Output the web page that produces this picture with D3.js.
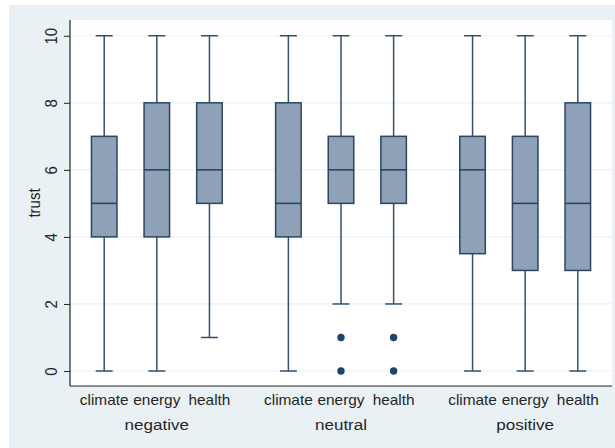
<!DOCTYPE html>
<html><head><meta charset="utf-8">
<script src="https://cdn.jsdelivr.net/npm/d3@7"></script>
<style>html,body{margin:0;padding:0;background:#fff;}svg{display:block;}</style>
</head><body>
<svg id="chart" width="615" height="448"></svg>
<script>
const groups = ["negative", "neutral", "positive"];
const categories = ["climate", "energy", "health"];
const lowWhisker = [0, 0, 1, 0, 2, 2, 0, 0, 0];
const q1Values = [4, 4, 5, 4, 5, 5, 3.5, 3, 3];
const medians = [5, 6, 6, 5, 6, 6, 6, 5, 5];
const q3Values = [7, 8, 8, 8, 7, 7, 7, 7, 8];
const highWhisker = [10, 10, 10, 10, 10, 10, 10, 10, 10];
const outliers = [[], [], [], [], [0, 1], [0, 1], [], [], []];
const yTicks = [0, 2, 4, 6, 8, 10];
const yLabel = "trust";

const svg = d3.select("#chart");
const W = 615, H = 448;
const plot = {left: 70, right: 612, top: 20, bottom: 386};
const FONT = "Liberation Sans, Arial, sans-serif";
const TXT = "#262626";
const SX = 1.1; // horizontal stretch of the reference image

svg.append("rect").attr("x", 9).attr("y", 5).attr("width", W - 9).attr("height", H - 5).attr("fill", "#eaf1f4");
svg.append("rect").attr("x", plot.left).attr("y", plot.top).attr("width", plot.right - plot.left).attr("height", plot.bottom - plot.top).attr("fill", "#ffffff");

const boxes = [];
groups.forEach((g, gi) => categories.forEach((c, ci) => {
  const i = gi * 3 + ci;
  boxes.push({group: g, cat: c, pos: gi * 3.5 + ci, lo: lowWhisker[i], q1: q1Values[i], med: medians[i], q3: q3Values[i], hi: highWhisker[i], out: outliers[i]});
}));

const x = d3.scaleLinear().domain([-0.65, 9.65]).range([plot.left, plot.right]);
const y = d3.scaleLinear().domain([-0.447, 10.47]).range([plot.bottom, plot.top]);
const unit = x(1) - x(0);
const boxW = unit * 0.485;
const capW = 17;

svg.append("g").selectAll("line").data(yTicks).join("line")
  .attr("x1", plot.left).attr("x2", plot.right)
  .attr("y1", d => y(d)).attr("y2", d => y(d))
  .attr("stroke", "#eaf1f4").attr("stroke-width", 1.2);

const yAxis = d3.axisLeft(y).tickValues(yTicks).tickSize(6).tickPadding(0).tickFormat(d3.format("d"));
const yg = svg.append("g").attr("transform", `translate(${plot.left},0)`).call(yAxis);
yg.select(".domain").attr("d", `M-0,${plot.top}V${plot.bottom}`).attr("stroke", "#222").attr("stroke-width", 1.2);
yg.selectAll(".tick line").attr("stroke", "#222").attr("stroke-width", 1);
yg.selectAll(".tick text")
  .attr("x", 0).attr("dy", 0)
  .attr("transform", `translate(-19,0) scale(${SX},1) rotate(-90)`)
  .attr("text-anchor", "middle")
  .attr("dominant-baseline", "central")
  .attr("font-family", FONT)
  .attr("font-size", 15).attr("fill", TXT);

svg.append("text").attr("transform", `translate(34,${(plot.top + plot.bottom) / 2}) scale(${SX},1) rotate(-90)`)
  .attr("text-anchor", "middle").attr("dominant-baseline", "central")
  .attr("font-family", FONT).attr("font-size", 15).attr("fill", TXT)
  .text(yLabel);

svg.append("line").attr("x1", plot.left).attr("x2", plot.right).attr("y1", plot.bottom).attr("y2", plot.bottom)
  .attr("stroke", "#222").attr("stroke-width", 1.2);

const stroke = "#34506f";
const bg = svg.append("g");
bg.selectAll("line.wlow").data(boxes).join("line").attr("class", "wlow")
  .attr("x1", d => x(d.pos)).attr("x2", d => x(d.pos)).attr("y1", d => y(d.q1)).attr("y2", d => y(d.lo))
  .attr("stroke", stroke).attr("stroke-width", 1.5);
bg.selectAll("line.whigh").data(boxes).join("line").attr("class", "whigh")
  .attr("x1", d => x(d.pos)).attr("x2", d => x(d.pos)).attr("y1", d => y(d.q3)).attr("y2", d => y(d.hi))
  .attr("stroke", stroke).attr("stroke-width", 1.5);
bg.selectAll("line.caplo").data(boxes).join("line").attr("class", "caplo")
  .attr("x1", d => x(d.pos) - capW / 2).attr("x2", d => x(d.pos) + capW / 2).attr("y1", d => y(d.lo)).attr("y2", d => y(d.lo))
  .attr("stroke", stroke).attr("stroke-width", 1.5);
bg.selectAll("line.caphi").data(boxes).join("line").attr("class", "caphi")
  .attr("x1", d => x(d.pos) - capW / 2).attr("x2", d => x(d.pos) + capW / 2).attr("y1", d => y(d.hi)).attr("y2", d => y(d.hi))
  .attr("stroke", stroke).attr("stroke-width", 1.5);
bg.selectAll("rect.box").data(boxes).join("rect").attr("class", "box")
  .attr("x", d => x(d.pos) - boxW / 2).attr("width", boxW)
  .attr("y", d => y(d.q3)).attr("height", d => y(d.q1) - y(d.q3))
  .attr("fill", "#8ea1b7").attr("stroke", "#2b4563").attr("stroke-width", 1.5);
bg.selectAll("line.med").data(boxes).join("line").attr("class", "med")
  .attr("x1", d => x(d.pos) - boxW / 2).attr("x2", d => x(d.pos) + boxW / 2).attr("y1", d => y(d.med)).attr("y2", d => y(d.med))
  .attr("stroke", "#23405f").attr("stroke-width", 1.5);
const outPts = boxes.flatMap(b => b.out.map(v => ({pos: b.pos, v})));
bg.selectAll("circle").data(outPts).join("circle")
  .attr("cx", d => x(d.pos)).attr("cy", d => y(d.v)).attr("r", 3.7).attr("fill", "#1f4468");

svg.append("g").selectAll("text").data(boxes).join("text")
  .attr("transform", d => `translate(${x(d.pos)},405) scale(${SX},1)`)
  .attr("text-anchor", "middle")
  .attr("font-family", FONT).attr("font-size", 14).attr("fill", TXT)
  .text(d => d.cat);
svg.append("g").selectAll("text").data(groups).join("text")
  .attr("transform", (d, i) => `translate(${x(i * 3.5 + 1)},430) scale(${SX},1)`)
  .attr("text-anchor", "middle")
  .attr("font-family", FONT).attr("font-size", 15.5).attr("fill", TXT)
  .text(d => d);
</script>
</body></html>
